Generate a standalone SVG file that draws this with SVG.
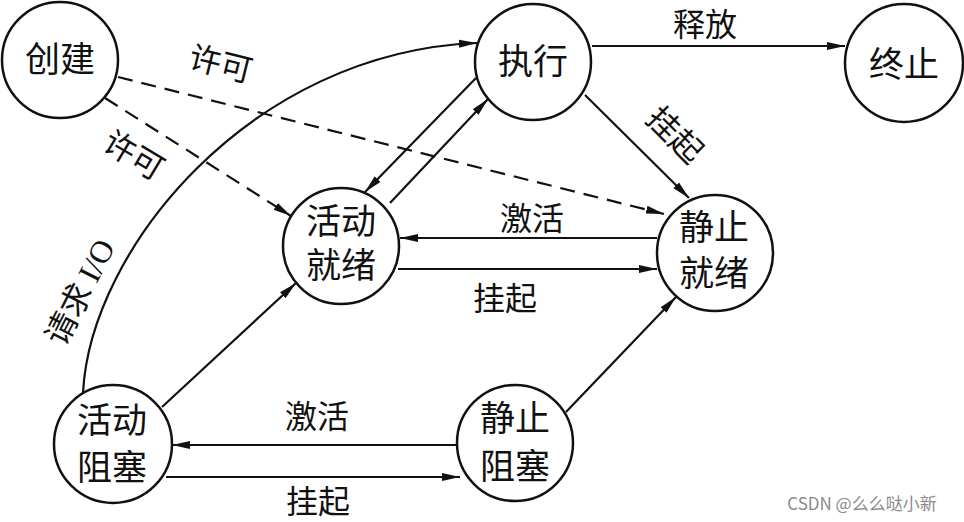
<svg xmlns="http://www.w3.org/2000/svg" width="964" height="522" viewBox="0 0 964 522">
<defs>
<style>
.node circle{fill:#fff;stroke:#111;stroke-width:2.5}
.t{font-family:"Noto Sans CJK SC","Noto Sans",sans-serif;font-size:35px;fill:#111;text-anchor:middle}
.lbl{font-family:"Noto Sans CJK SC","Noto Sans",sans-serif;font-size:32px;fill:#111;text-anchor:middle}
.e{fill:none;stroke:#111;stroke-width:2.2;marker-end:url(#arr)}
.d{stroke-dasharray:15 9}
</style>
<marker id="arr" markerWidth="18" markerHeight="10" refX="18" refY="5" orient="auto" markerUnits="userSpaceOnUse">
<path d="M0,1 L18,5 L0,9 Z" fill="#111"/>
</marker>
</defs>
<rect width="964" height="522" fill="#fff"/>
<g id="connectors">
<path class="e d" d="M118,77 L664,214"/>
<path class="e d" d="M105,98 L291,216"/>
<path class="e" d="M83,393 C90,250 250,52 477,43"/>
<path class="e" d="M592,46 L845,46"/>
<path class="e" d="M585,95 L689,198"/>
<path class="e" d="M476,78 L365,192"/>
<path class="e" d="M390,203 L488,99"/>
<path class="e" d="M657,238 L400,238"/>
<path class="e" d="M398,269 L657,269"/>
<path class="e" d="M458,445 L172,445"/>
<path class="e" d="M166,477 L460,477"/>
<path class="e" d="M162,407 L296,283"/>
<path class="e" d="M566,412 L676,297"/>
</g>
<g id="edge-labels">
<text class="lbl" transform="translate(218,75) rotate(14)">许可</text>
<text class="lbl" transform="translate(128,165) rotate(31)">许可</text>
<text class="lbl" x="705" y="36" font-size="31">释放</text>
<text class="lbl" transform="translate(667,143) rotate(45)">挂起</text>
<text class="lbl" x="532" y="230">激活</text>
<text class="lbl" x="505" y="310">挂起</text>
<text class="lbl" x="317" y="428">激活</text>
<text class="lbl" x="318" y="513">挂起</text>
<text class="lbl" transform="translate(90,297) rotate(-63)">请求 <tspan font-family="'Liberation Serif',serif">I/O</tspan></text>
</g>
<g id="n-create" class="node"><circle cx="60" cy="60" r="58"/><text class="t" x="60" y="72">创建</text></g>
<g id="n-run" class="node"><circle cx="533" cy="62" r="58"/><text class="t" x="533" y="74">执行</text></g>
<g id="n-exit" class="node"><circle cx="904" cy="63" r="59"/><text class="t" x="904" y="77">终止</text></g>
<g id="n-ready-active" class="node"><circle cx="341" cy="246" r="58"/><text class="t" x="341" y="234">活动</text><text class="t" x="341" y="278">就绪</text></g>
<g id="n-ready-static" class="node"><circle cx="715" cy="253" r="58"/><text class="t" x="714" y="240">静止</text><text class="t" x="714" y="286">就绪</text></g>
<g id="n-block-active" class="node"><circle cx="113" cy="444" r="59"/><text class="t" x="112" y="433">活动</text><text class="t" x="112" y="480">阻塞</text></g>
<g id="n-block-static" class="node"><circle cx="515" cy="443" r="58"/><text class="t" x="515" y="431">静止</text><text class="t" x="515" y="479">阻塞</text></g>
<text x="862" y="510" font-family="'Noto Sans CJK SC','Noto Sans',sans-serif" font-size="17" fill="#8a8a8a" text-anchor="middle">CSDN @么么哒小新</text>
</svg>
